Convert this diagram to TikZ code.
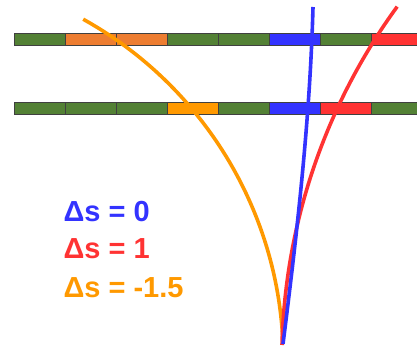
\documentclass[tikz,border=0pt]{standalone}
\usepackage{fontspec}
\setmainfont{Liberation Sans}
\definecolor{cell-green}{HTML}{538135}
\definecolor{cell-orange}{HTML}{ED7D31}
\definecolor{ds-orange}{HTML}{FF9900}
\definecolor{ds-blue}{HTML}{3333FF}
\definecolor{ds-red}{HTML}{FF3333}
\begin{document}
\begin{tikzpicture}[x=1pt, y=-1pt,
        cell/.style={draw=black!75, line width=0.6pt},
        track/.style={line width=3.6pt},
        label/.style={font=\fontsize{29}{33}\selectfont\bfseries, anchor=base west}]
      \useasboundingbox (0,0) rectangle (417,347);
      % upper row of cells
      \foreach \c [count=\i from 0] in {cell-green, cell-orange, cell-orange, cell-green,
                                        cell-green, ds-blue, cell-green, ds-red}
        \draw[cell, fill=\c] (14+51*\i,33) rectangle ++(51,12);
      % lower row of cells
      \foreach \c [count=\i from 0] in {cell-green, cell-green, cell-green, ds-orange,
                                        cell-green, ds-blue, ds-red, cell-green}
        \draw[cell, fill=\c] (14+51*\i,102) rectangle ++(51,12);
      % the three curves, all from the same foot
      \coordinate (foot) at (283,344);
      \coordinate (blue-end) at (313,7);
      \draw[track, ds-orange] (foot) arc[start angle=-2.3, end angle=-60.9, radius=389.6];
      \draw[track, ds-red] (282,345) arc[start angle=-178.5, end angle=-143.9, radius=601];
      \draw[track, ds-blue] (foot) .. controls (297,233) and (310,120) .. (blue-end);
      \node[label, text=ds-blue] (ds0) at (60,222) {Δs = 0};
      \node[label, text=ds-red] (ds1) at (60,258) {Δs = 1};
      \node[label, text=ds-orange] (ds2) at (60,297) {Δs = -1.5};
    \end{tikzpicture}
\end{document}
